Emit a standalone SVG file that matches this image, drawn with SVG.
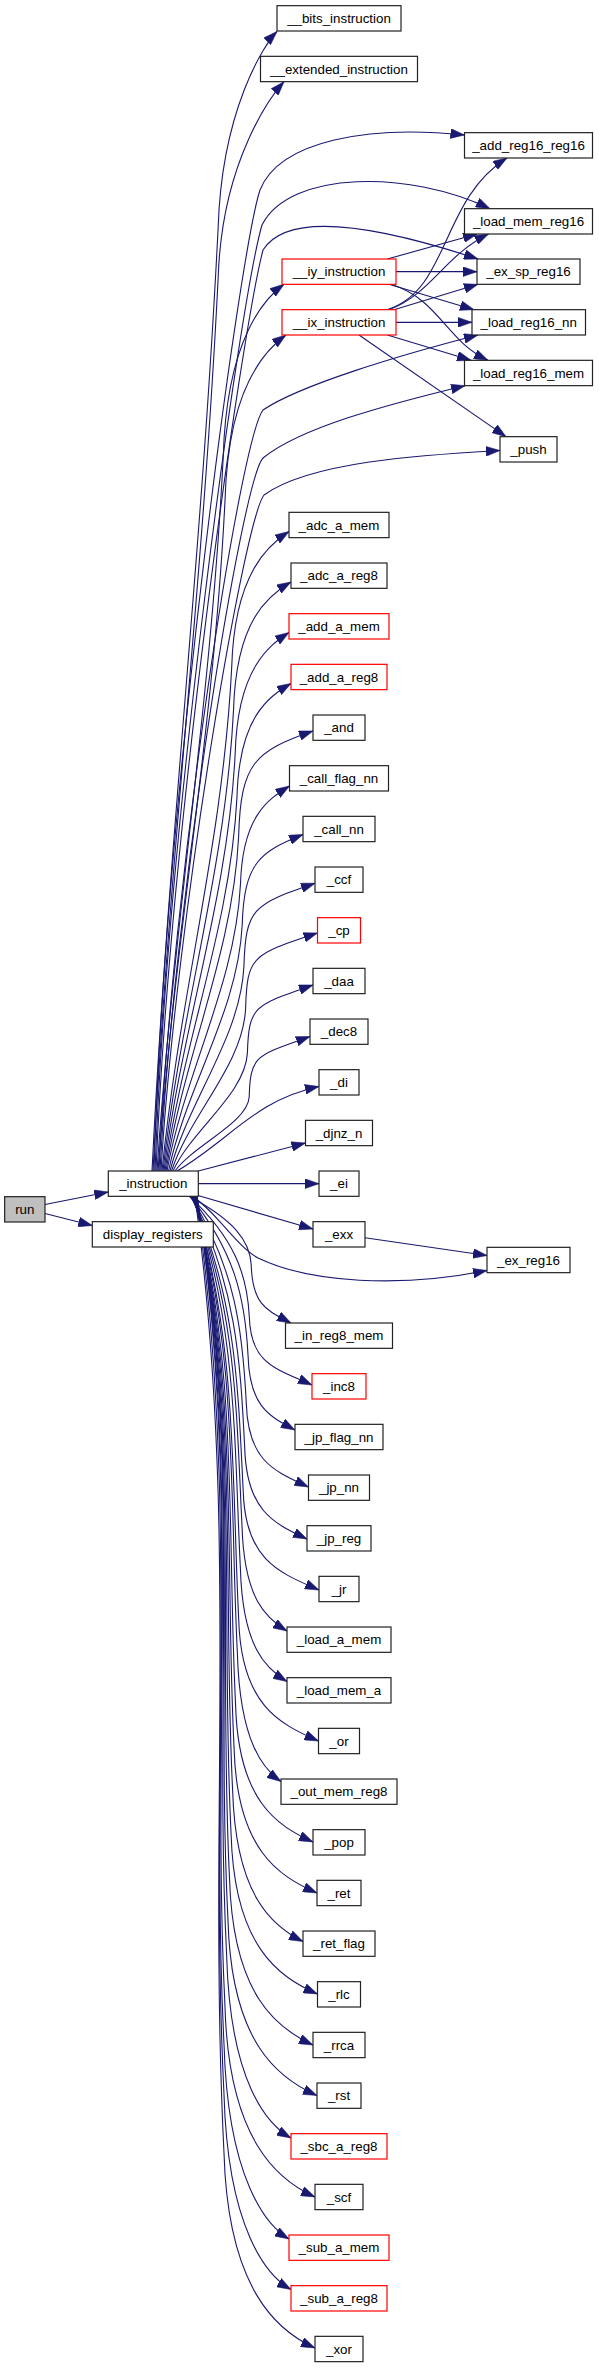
<svg xmlns="http://www.w3.org/2000/svg" width="599" height="2368" viewBox="0 0 599 2368">
<defs>
<style>
.n rect{fill:#fff;stroke:#222;stroke-width:1.2}
.r rect{stroke:#f00}
.g rect{fill:#bfbfbf}
.n text{font-family:"Liberation Sans",Arial,sans-serif;font-size:13.33px;text-anchor:middle;fill:#000}
.e path{fill:none;stroke:#191970;stroke-width:1.1;marker-end:url(#a)}
</style>
<marker id="a" markerUnits="userSpaceOnUse" markerWidth="14" markerHeight="10" refX="13.33" refY="4.67" orient="auto" viewBox="0 0 13.33 9.33">
<path d="M0,0 L13.33,4.67 L0,9.33 z" fill="#191970" stroke="#191970" stroke-width="0.5"/>
</marker>
</defs>
<rect width="599" height="2368" fill="#fff"/>
<g id="edges" class="e">
<path d="M45,1204.5 L108.3,1192"/>
<path d="M45,1213.5 L92.3,1225.5"/>
<path d="M152,1171 C168.5,840.4 201.7,557.1 218.2,226.5 C222.1,109.5 264,44.5 277,31.5"/>
<path d="M153,1171 C169.3,858.1 202.6,589.9 218.2,277 C222.1,160 272,95 284,81.7"/>
<path d="M154,1171 C165,800 240,250 260,190 C280,140 370,125 464.5,135"/>
<path d="M155,1171 C168,820 240,300 262,225 C290,170 410,170 490,208.7"/>
<path d="M156,1171 C170,830 242,330 263,250 C285,215 360,220 478,259"/>
<path d="M157,1171 C173.6,921.2 210.7,707.1 223.2,457.3 C226.7,336.2 266.2,297.3 284,284.3"/>
<path d="M158,1171 C174.8,936.4 213.3,735.3 225,500.7 C228.3,384.9 267.6,348.3 286,335"/>
<path d="M159,1171 C172,880 240,440 263,410 C300,385 400,355 478,335"/>
<path d="M160,1171 C174,900 242,480 263,458 C300,428 385,405 465,385.7"/>
<path d="M161,1171 C176,920 244,520 264,495 C310,462 420,455 500,450.5"/>
<path d="M162,1171 C179.4,994.7 222.9,843.7 231.7,667.4 C234.4,572.3 269,544.5 289,531.5"/>
<path d="M163,1171 C180.6,1009.8 225.4,871.6 233.5,710.4 C236.1,620.5 267.9,595.5 291,582"/>
<path d="M164,1171 C181.8,1024.8 227.9,899.5 235.2,753.3 C237.6,668.7 269,645.5 289,632.5"/>
<path d="M165,1171 C183,1040 230.4,927.6 237,796.6 C239.3,717.4 267.9,697 291,683.5"/>
<path d="M166,1171 C184.2,1054.1 232.8,953.9 238.6,837 C240.7,762.8 254.6,751.2 313,731"/>
<path d="M167,1171 C185.4,1070.5 235.5,984.3 240.5,883.8 C242.5,815.3 268.6,799.2 289.5,786"/>
<path d="M168.5,1171 C186.9,1084.9 237.9,1011.1 242.2,925 C244,861.7 260.6,851.7 303,834.5"/>
<path d="M170,1171 C188.5,1099.4 240.3,1038.1 243.9,966.5 C245.6,908.3 253.2,904.2 315,883.3"/>
<path d="M171.5,1171 C190,1114.2 242.8,1065.5 245.6,1008.7 C247.1,955.7 252.1,954.5 317.5,933"/>
<path d="M173,1171 C191.6,1129.7 245.3,1094.2 247.4,1052.9 C248.8,1005.4 254.6,1005.2 313,985"/>
<path d="M175,1171 C193.6,1145 247.9,1122.7 249.2,1096.7 C250.4,1054.6 256.4,1055.8 310,1036.5"/>
<path d="M177,1171 C230,1140 255,1100 319,1086.5"/>
<path d="M198.3,1171 L305.5,1143"/>
<path d="M198.3,1183.67 L319,1183.67"/>
<path d="M198,1195.5 L313,1229"/>
<path d="M192,1196.3 C215,1210 235,1245 258,1258 C310,1283 400,1288 487,1270.5"/>
<path d="M365,1237.7 L487,1255.5"/>
<path d="M387.4,259 L477,234"/>
<path d="M396,271.67 L477,271.67"/>
<path d="M389,284.3 L474,309.67"/>
<path d="M391,284.3 C440,300 445,340 488,360.33"/>
<path d="M387,309.67 C450,290 440,200 507,158"/>
<path d="M389,309.67 C430,295 445,255 488.5,234"/>
<path d="M394,309.67 L478,284.33"/>
<path d="M396,322.33 L472,322.33"/>
<path d="M387.4,335 L471,360.33"/>
<path d="M359,335 L506,436.67"/>
<path d="M189,1196.3 C234,1220.3 250,1240.8 251.2,1264.8 C252.4,1306.2 267.8,1310.7 291,1323"/>
<path d="M189.5,1196.3 C234.5,1238.4 247.2,1274.6 249.3,1316.7 C250.7,1364.5 276.3,1368.5 312,1385"/>
<path d="M190,1196.3 C235,1251.8 245.2,1299.4 248,1354.9 C249.5,1407.5 269.4,1416.1 295,1430"/>
<path d="M190.5,1196.3 C235.5,1268.8 242.7,1330.9 246.3,1403.4 C248,1461.9 274.8,1471.1 308.5,1487"/>
<path d="M191,1196.3 C236,1284.3 240.3,1359.6 244.7,1447.6 C246.5,1511.6 274.2,1523.3 307,1539"/>
<path d="M191.5,1196.3 C236.5,1299.4 238,1387.8 243.2,1490.9 C245.2,1560.3 279,1572.5 319,1590"/>
<path d="M192,1196.3 C237,1311.6 236.2,1410.5 242,1525.8 C244.1,1599.4 266.2,1618.3 287,1631"/>
<path d="M192.5,1196.3 C237.5,1326.6 233.9,1438.4 240.4,1568.7 C242.7,1647.7 266.2,1668.8 287,1681.5"/>
<path d="M193,1196.3 C238,1344.3 231.3,1471.3 238.7,1619.3 C241.1,1704.5 278.7,1723.6 318.5,1741"/>
<path d="M193.5,1196.3 C238.5,1356.4 229.4,1493.6 237.4,1653.7 C240,1743.2 263.9,1769.7 281,1781.5"/>
<path d="M194,1196.3 C239,1374.4 226.7,1527 235.6,1705.1 C238.3,1800.9 276.6,1825.4 313,1842"/>
<path d="M194.5,1196.3 C239.5,1389.6 224.4,1555.2 234.1,1748.5 C237,1849.6 278.1,1875.8 317,1893"/>
<path d="M195,1196.3 C240,1404 222.2,1582 232.6,1789.7 C235.6,1896 272.5,1926.4 303,1941.5"/>
<path d="M195.5,1196.3 C240.5,1419.6 219.9,1611 231.1,1834.3 C234.3,1946.1 278.3,1976.8 317.5,1994"/>
<path d="M196,1196.3 C241,1434.8 217.6,1639.2 229.5,1877.7 C232.8,1994.8 276.6,2028.4 313,2045"/>
<path d="M196.5,1196.3 C241.5,1449.8 215.3,1667.1 228,1920.6 C231.5,2043 278.1,2078.3 317,2095.5"/>
<path d="M197,1196.3 C242,1462.4 213.4,1690.6 226.7,1956.7 C230.3,2083.6 267.7,2124.7 291,2138"/>
<path d="M197,1196.3 C242,1480 210.8,1723.2 225,2006.9 C228.8,2140 277.5,2180.1 315,2197"/>
<path d="M197,1196.3 C242,1493 209.2,1747.3 224,2044 C227.9,2180.5 267,2226 289,2239"/>
<path d="M196,1196.3 C241,1510.7 208.3,1780.1 224,2094.5 C227.9,2231 267.7,2276.2 291,2289.5"/>
<path d="M195,1196.3 C240,1531.1 207.3,1818.2 224,2153 C227.9,2289.5 277.5,2331.1 315,2348"/>
</g>
<g id="n_run" class="n g"><rect x="4.67" y="1196.67" width="40.33" height="25.33"/><text x="24.8" y="1213.97">run</text></g>
<g id="n_instruction" class="n"><rect x="108.3" y="1171" width="90" height="25.33"/><text x="153.3" y="1188.3">_instruction</text></g>
<g id="n_display_registers" class="n"><rect x="92.3" y="1221.67" width="121" height="25.33"/><text x="152.8" y="1238.97">display_registers</text></g>
<g id="n_bits_instruction" class="n"><rect x="277" y="5.67" width="124" height="25.33"/><text x="339" y="22.97">__bits_instruction</text></g>
<g id="n_extended_instruction" class="n"><rect x="260.5" y="56.33" width="157" height="25.33"/><text x="339" y="73.63">__extended_instruction</text></g>
<g id="n_iy_instruction" class="n r"><rect x="282" y="259" width="114" height="25.33"/><text x="339" y="276.3">__iy_instruction</text></g>
<g id="n_ix_instruction" class="n r"><rect x="282" y="309.67" width="114" height="25.33"/><text x="339" y="326.97">__ix_instruction</text></g>
<g id="n_adc_a_mem" class="n"><rect x="289" y="512.33" width="100" height="25.33"/><text x="339" y="529.63">_adc_a_mem</text></g>
<g id="n_adc_a_reg8" class="n"><rect x="291" y="563" width="96" height="25.33"/><text x="339" y="580.3">_adc_a_reg8</text></g>
<g id="n_add_a_mem" class="n r"><rect x="289" y="613.67" width="100" height="25.33"/><text x="339" y="630.97">_add_a_mem</text></g>
<g id="n_add_a_reg8" class="n r"><rect x="291" y="664.33" width="96" height="25.33"/><text x="339" y="681.63">_add_a_reg8</text></g>
<g id="n_and" class="n"><rect x="313" y="715" width="52" height="25.33"/><text x="339" y="732.3">_and</text></g>
<g id="n_call_flag_nn" class="n"><rect x="289.5" y="765.67" width="99" height="25.33"/><text x="339" y="782.97">_call_flag_nn</text></g>
<g id="n_call_nn" class="n"><rect x="303" y="816.33" width="72" height="25.33"/><text x="339" y="833.63">_call_nn</text></g>
<g id="n_ccf" class="n"><rect x="315" y="867" width="48" height="25.33"/><text x="339" y="884.3">_ccf</text></g>
<g id="n_cp" class="n r"><rect x="317.5" y="917.67" width="43" height="25.33"/><text x="339" y="934.97">_cp</text></g>
<g id="n_daa" class="n"><rect x="313" y="968.33" width="52" height="25.33"/><text x="339" y="985.63">_daa</text></g>
<g id="n_dec8" class="n"><rect x="310" y="1019" width="58" height="25.33"/><text x="339" y="1036.3">_dec8</text></g>
<g id="n_di" class="n"><rect x="319" y="1069.67" width="40" height="25.33"/><text x="339" y="1086.97">_di</text></g>
<g id="n_djnz_n" class="n"><rect x="305.5" y="1120.33" width="67" height="25.33"/><text x="339" y="1137.63">_djnz_n</text></g>
<g id="n_ei" class="n"><rect x="319" y="1171" width="40" height="25.33"/><text x="339" y="1188.3">_ei</text></g>
<g id="n_exx" class="n"><rect x="313" y="1221.67" width="52" height="25.33"/><text x="339" y="1238.97">_exx</text></g>
<g id="n_in_reg8_mem" class="n"><rect x="285.5" y="1323" width="107" height="25.33"/><text x="339" y="1340.3">_in_reg8_mem</text></g>
<g id="n_inc8" class="n r"><rect x="312" y="1373.67" width="54" height="25.33"/><text x="339" y="1390.97">_inc8</text></g>
<g id="n_jp_flag_nn" class="n"><rect x="295" y="1424.33" width="88" height="25.33"/><text x="339" y="1441.63">_jp_flag_nn</text></g>
<g id="n_jp_nn" class="n"><rect x="308.5" y="1475" width="61" height="25.33"/><text x="339" y="1492.3">_jp_nn</text></g>
<g id="n_jp_reg" class="n"><rect x="307" y="1525.67" width="64" height="25.33"/><text x="339" y="1542.97">_jp_reg</text></g>
<g id="n_jr" class="n"><rect x="319" y="1576.33" width="40" height="25.33"/><text x="339" y="1593.63">_jr</text></g>
<g id="n_load_a_mem" class="n"><rect x="287" y="1627" width="104" height="25.33"/><text x="339" y="1644.3">_load_a_mem</text></g>
<g id="n_load_mem_a" class="n"><rect x="287" y="1677.67" width="104" height="25.33"/><text x="339" y="1694.97">_load_mem_a</text></g>
<g id="n_or" class="n"><rect x="318.5" y="1728.33" width="41" height="25.33"/><text x="339" y="1745.63">_or</text></g>
<g id="n_out_mem_reg8" class="n"><rect x="281" y="1779" width="116" height="25.33"/><text x="339" y="1796.3">_out_mem_reg8</text></g>
<g id="n_pop" class="n"><rect x="313" y="1829.67" width="52" height="25.33"/><text x="339" y="1846.97">_pop</text></g>
<g id="n_ret" class="n"><rect x="317" y="1880.33" width="44" height="25.33"/><text x="339" y="1897.63">_ret</text></g>
<g id="n_ret_flag" class="n"><rect x="303" y="1931" width="72" height="25.33"/><text x="339" y="1948.3">_ret_flag</text></g>
<g id="n_rlc" class="n"><rect x="317.5" y="1981.67" width="43" height="25.33"/><text x="339" y="1998.97">_rlc</text></g>
<g id="n_rrca" class="n"><rect x="313" y="2032.33" width="52" height="25.33"/><text x="339" y="2049.63">_rrca</text></g>
<g id="n_rst" class="n"><rect x="317" y="2083" width="44" height="25.33"/><text x="339" y="2100.3">_rst</text></g>
<g id="n_sbc_a_reg8" class="n r"><rect x="291" y="2133.67" width="96" height="25.33"/><text x="339" y="2150.97">_sbc_a_reg8</text></g>
<g id="n_scf" class="n"><rect x="315" y="2184.33" width="48" height="25.33"/><text x="339" y="2201.63">_scf</text></g>
<g id="n_sub_a_mem" class="n r"><rect x="289" y="2235" width="100" height="25.33"/><text x="339" y="2252.3">_sub_a_mem</text></g>
<g id="n_sub_a_reg8" class="n r"><rect x="291" y="2285.67" width="96" height="25.33"/><text x="339" y="2302.97">_sub_a_reg8</text></g>
<g id="n_xor" class="n"><rect x="315" y="2336.33" width="48" height="25.33"/><text x="339" y="2353.63">_xor</text></g>
<g id="n_add_reg16_reg16" class="n"><rect x="464.5" y="132.67" width="128" height="25.33"/><text x="528.5" y="149.97">_add_reg16_reg16</text></g>
<g id="n_load_mem_reg16" class="n"><rect x="464.5" y="208.67" width="128" height="25.33"/><text x="528.5" y="225.97">_load_mem_reg16</text></g>
<g id="n_ex_sp_reg16" class="n"><rect x="477" y="259" width="103" height="25.33"/><text x="528.5" y="276.3">_ex_sp_reg16</text></g>
<g id="n_load_reg16_nn" class="n"><rect x="472" y="309.67" width="113.5" height="25.33"/><text x="528.75" y="326.97">_load_reg16_nn</text></g>
<g id="n_load_reg16_mem" class="n"><rect x="464.5" y="360.33" width="128" height="25.33"/><text x="528.5" y="377.63">_load_reg16_mem</text></g>
<g id="n_push" class="n"><rect x="500" y="436.67" width="57" height="25.33"/><text x="528.5" y="453.97">_push</text></g>
<g id="n_ex_reg16" class="n"><rect x="487" y="1247.33" width="83" height="25.33"/><text x="528.5" y="1264.63">_ex_reg16</text></g>
</svg>
